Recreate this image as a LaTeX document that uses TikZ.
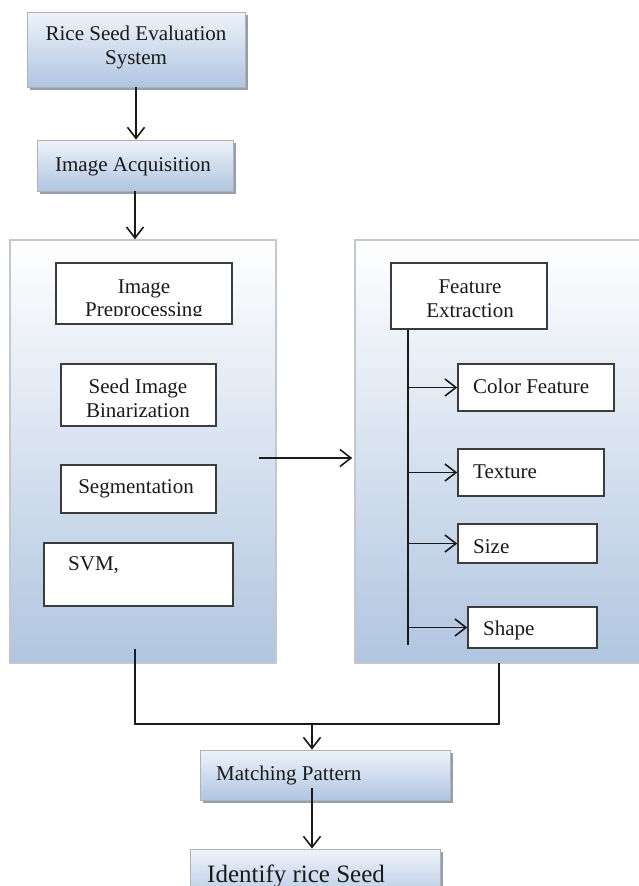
\documentclass[tikz,border=0pt]{standalone}
\usepackage{fontspec}
\setmainfont{Liberation Serif}
\usetikzlibrary{arrows.meta,shadows,calc}
\definecolor{gtop}{HTML}{EEF3FA}
\definecolor{gbot}{HTML}{B0C5E1}
\definecolor{ptop}{HTML}{FFFFFF}
\definecolor{pbot}{HTML}{B0C5E0}
\definecolor{pline}{HTML}{C4C8CE}
\definecolor{ink}{HTML}{1A1A1A}
\definecolor{shad}{HTML}{8A94A3}
\tikzset{
 gbox/.style={draw=gray!60, line width=0.8pt, top color=gtop, bottom color=gbot, inner sep=0pt,
   drop shadow={shadow xshift=3pt, shadow yshift=-3pt, fill=shad, opacity=0.9}},
 panel/.style={draw=pline, line width=1.5pt, top color=ptop, bottom color=pbot, inner sep=0pt},
 wbox/.style={draw=ink!85, line width=1.5pt, fill=white, inner sep=0pt},
 lbl/.style={anchor=base, inner sep=0pt, text=ink, font=\fontsize{21}{24}\selectfont},
 lblw/.style={lbl, anchor=base west},
 conn/.style={draw=ink, line width=1.6pt},
 arr/.style={conn, -{Straight Barb[length=11pt,width=17pt,line width=1.6pt]}},
}
\begin{document}
\begin{tikzpicture}[x=1pt,y=-1pt]
\useasboundingbox (0,0) rectangle (638,886);
% top boxes
\node[gbox, minimum width=218pt, minimum height=75pt] (rse) at (136,49.5) {};
\node[lbl] (t1) at (136,40) {Rice Seed Evaluation};
\node[lbl] (t2) at (136,64) {System};
\node[gbox, minimum width=196pt, minimum height=51pt] (acq) at (135,165.5) {};
\node[lbl] (t3) at (133,171) {Image Acquisition};
% panels
\node[panel, minimum width=266pt, minimum height=423pt] (lpanel) at (143,451.5) {};
\node[panel, minimum width=295pt, minimum height=423pt] (rpanel) at (502.5,451.5) {};
% left panel contents
\node[wbox, minimum width=176pt, minimum height=61pt] (pre) at (144,293.5) {};
\begin{scope}
\clip (58,265) rectangle (230,315);
\node[lbl] (t4) at (144,293) {Image};
\node[lbl] (t5) at (144,316) {Preprocessing};
\end{scope}
\node[wbox, minimum width=155pt, minimum height=62pt] (bin) at (138.5,395) {};
\node[lbl] (t6) at (138,393) {Seed Image};
\node[lbl] (t7) at (138,417) {Binarization};
\node[wbox, minimum width=155pt, minimum height=48pt] (seg) at (138.5,489) {};
\node[lbl] (t8) at (136,493) {Segmentation};
\node[wbox, minimum width=189pt, minimum height=63pt] (svm) at (138.5,574.5) {};
\node[lblw] (t9) at (68,570) {SVM,};
% right panel contents
\node[wbox, minimum width=156pt, minimum height=66pt] (fe) at (469,296) {};
\node[lbl] (t10) at (470,293) {Feature};
\node[lbl] (t11) at (470,317) {Extraction};
\node[wbox, minimum width=156pt, minimum height=47pt] (col) at (536,387.5) {};
\node[lblw] (t12) at (473,393) {Color Feature};
\node[wbox, minimum width=146pt, minimum height=47pt] (tex) at (531,472.5) {};
\node[lblw] (t13) at (473,478) {Texture};
\node[wbox, minimum width=139pt, minimum height=39pt] (siz) at (527.5,543.5) {};
\node[lblw] (t14) at (473,553) {Size};
\node[wbox, minimum width=129pt, minimum height=41pt] (shp) at (532.5,627.5) {};
\node[lblw] (t15) at (483,635) {Shape};
% bottom boxes
\node[gbox, minimum width=250pt, minimum height=50pt] (mat) at (325,775) {};
\node[lblw] (t16) at (216,780) {Matching Pattern};
\node[gbox, minimum width=250pt, minimum height=56pt] (idf) at (315,877) {};
\node[lblw, font=\fontsize{25}{30}\selectfont] (t17) at (207,882) {Identify rice Seed};
% connectors
\coordinate (hs) at (259,458);
\coordinate (trunk) at (408,645);
\coordinate (lb) at (135,649);
\coordinate (rb) at (499,663);
\coordinate (jn) at (312,724);
\draw[arr] (rse.south) -- (rse.south |- acq.north);
\draw[arr] (acq.south) -- (acq.south |- lpanel.north);
\draw[arr] (hs) -- ($(hs -| rpanel.west)+(-2,0)$);
\draw[conn] (fe.south -| trunk) -- (trunk);
\draw[arr] (col.west -| trunk) -- (col.west);
\draw[arr] (tex.west -| trunk) -- (tex.west);
\draw[arr] (siz.west -| trunk) -- (siz.west);
\draw[arr] (shp.west -| trunk) -- (shp.west);
\draw[conn] (lb) |- (jn) -| (rb);
\draw[arr] (jn) -- (jn |- mat.north);
\draw[arr] ($(jn |- mat.south)+(0,-12)$) -- (jn |- idf.north);
\end{tikzpicture}
\end{document}
